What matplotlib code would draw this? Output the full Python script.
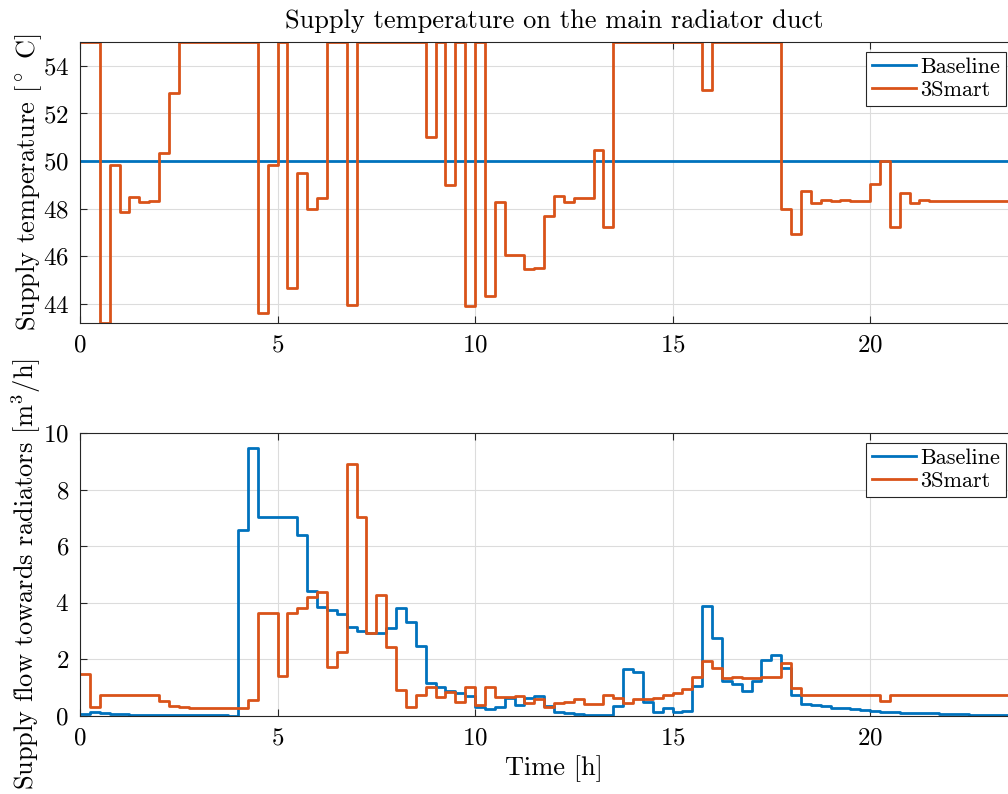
import numpy as np
import matplotlib
matplotlib.use("Agg")
import matplotlib.pyplot as plt

plt.rcParams["font.family"] = "serif"
plt.rcParams["font.serif"] = ["cmr10"]
plt.rcParams["mathtext.fontset"] = "cm"
plt.rcParams["axes.unicode_minus"] = False
plt.rcParams["axes.formatter.use_mathtext"] = True

# 15 minute samples over one day
dt = 0.25

temp_baseline = [50.0] * 96
temp_3smart = [
    55, 55, 43.2, 49.83, 47.87, 48.48, 48.3, 48.32, 50.32, 52.84,
    55, 55, 55, 55, 55, 55, 55, 55, 43.6, 49.83,
    55, 44.66, 49.5, 47.99, 48.46, 55, 55, 43.94, 55, 55,
    55, 55, 55, 55, 55, 51.0, 55, 48.99, 55, 43.92,
    55, 44.34, 48.27, 46.06, 46.06, 45.47, 45.52, 47.71, 48.55, 48.29,
    48.43, 48.43, 50.46, 47.24, 55, 55, 55, 55, 55, 55,
    55, 55, 55, 53.0, 55, 55, 55, 55, 55, 55,
    55, 47.99, 46.94, 48.74, 48.22, 48.36, 48.32, 48.36, 48.32, 48.32,
    49.02, 50.0, 47.22, 48.64, 48.22, 48.36, 48.32, 48.32, 48.32, 48.32,
    48.32, 48.32, 48.32, 48.32, 48.32, 48.32,
]

flow_baseline = [
    0.07, 0.14, 0.09, 0.07, 0.06, 0.05, 0.05, 0.04, 0.04, 0.03,
    0.03, 0.03, 0.02, 0.02, 0.02, 0.01, 6.57, 9.46, 7.04, 7.04,
    7.04, 7.04, 6.4, 4.43, 3.84, 3.75, 3.59, 3.16, 3.02, 2.94,
    2.92, 3.1, 3.83, 3.33, 2.47, 1.15, 1.04, 0.9, 0.8, 0.71,
    0.33, 0.24, 0.31, 0.62, 0.39, 0.62, 0.71, 0.35, 0.15, 0.12,
    0.07, 0.05, 0.05, 0.05, 0.37, 1.65, 1.57, 0.51, 0.13, 0.27,
    0.15, 0.18, 1.07, 3.89, 2.77, 1.25, 1.13, 0.9, 1.25, 1.98,
    2.16, 1.68, 0.74, 0.41, 0.38, 0.34, 0.3, 0.27, 0.24, 0.21,
    0.18, 0.16, 0.14, 0.12, 0.11, 0.1, 0.09, 0.08, 0.07, 0.06,
    0.05, 0.05, 0.04, 0.03, 0.03, 0.02,
]
flow_3smart = [
    1.48, 0.31, 0.74, 0.74, 0.74, 0.74, 0.74, 0.74, 0.54, 0.35,
    0.33, 0.3, 0.3, 0.3, 0.3, 0.3, 0.3, 0.57, 3.65, 3.65,
    1.43, 3.65, 3.8, 4.22, 4.39, 1.72, 2.25, 8.89, 7.04, 2.92,
    4.28, 2.45, 0.92, 0.31, 0.74, 1.04, 0.68, 0.86, 0.51, 1.04,
    0.39, 1.04, 0.66, 0.68, 0.71, 0.47, 0.59, 0.31, 0.45, 0.51,
    0.59, 0.42, 0.41, 0.74, 0.62, 0.45, 0.59, 0.59, 0.62, 0.74,
    0.82, 0.94, 1.39, 1.96, 1.68, 1.33, 1.39, 1.35, 1.35, 1.37,
    1.39, 1.86, 0.98, 0.74, 0.74, 0.74, 0.74, 0.74, 0.74, 0.74,
    0.74, 0.54, 0.74, 0.74, 0.74, 0.74, 0.74, 0.74, 0.74, 0.74,
    0.74, 0.74, 0.74, 0.74, 0.74, 0.74,
]

blue = "#0072BD"
orange = "#D95319"
t = np.arange(len(temp_3smart) + 1) * dt


def steps(ax, vals, color, label):
    y = np.append(vals, vals[-1])
    ax.plot(t, y, drawstyle="steps-post", color=color, lw=2.0, label=label)


def style(ax):
    ax.set_xlim(0, 24)
    ax.set_xticks([0, 5, 10, 15, 20])
    ax.grid(True, color="#dcdcdc", lw=0.8)
    ax.set_axisbelow(True)
    ax.tick_params(direction="in", top=True, right=True, labelsize=18,
                   length=5, color="#262626", pad=8)
    for s in ax.spines.values():
        s.set_color("#262626")
        s.set_linewidth(0.8)


fig = plt.figure(figsize=(10.08, 7.94), dpi=100)
ax1 = fig.add_axes([0.0794, 0.5932, 0.9405, 0.3539])
ax2 = fig.add_axes([0.0794, 0.0982, 0.9405, 0.3564])

steps(ax1, temp_baseline, blue, "Baseline")
steps(ax1, temp_3smart, orange, "3Smart")
style(ax1)
ax1.set_ylim(43.2, 55)
ax1.set_yticks([44, 46, 48, 50, 52, 54])
ax1.set_ylabel(r"Supply temperature [$^\circ$ C]", fontsize=19, labelpad=-1)
ax1.set_title("Supply temperature on the main radiator duct", fontsize=19, pad=10)

steps(ax2, flow_baseline, blue, "Baseline")
steps(ax2, flow_3smart, orange, "3Smart")
style(ax2)
ax2.set_ylim(0, 10)
ax2.set_yticks([0, 2, 4, 6, 8, 10])
ax2.set_ylabel(r"Supply flow towards radiators [m$^3$/h]", fontsize=19, labelpad=0)
ax2.set_xlabel("Time [h]", fontsize=19, labelpad=4)

for ax, top in [(ax1, 1 - 52 / 794), (ax2, 1 - 443 / 794)]:
    leg = ax.legend(loc="upper right", bbox_to_anchor=(1006 / 1008, top),
                    bbox_transform=fig.transFigure, fontsize=16, fancybox=False,
                    framealpha=1, edgecolor="#262626", handlelength=2.0,
                    handletextpad=0.2, borderpad=0.25, labelspacing=0.15,
                    borderaxespad=0)
    leg.get_frame().set_linewidth(0.8)

fig.savefig("out.png", dpi=100)
